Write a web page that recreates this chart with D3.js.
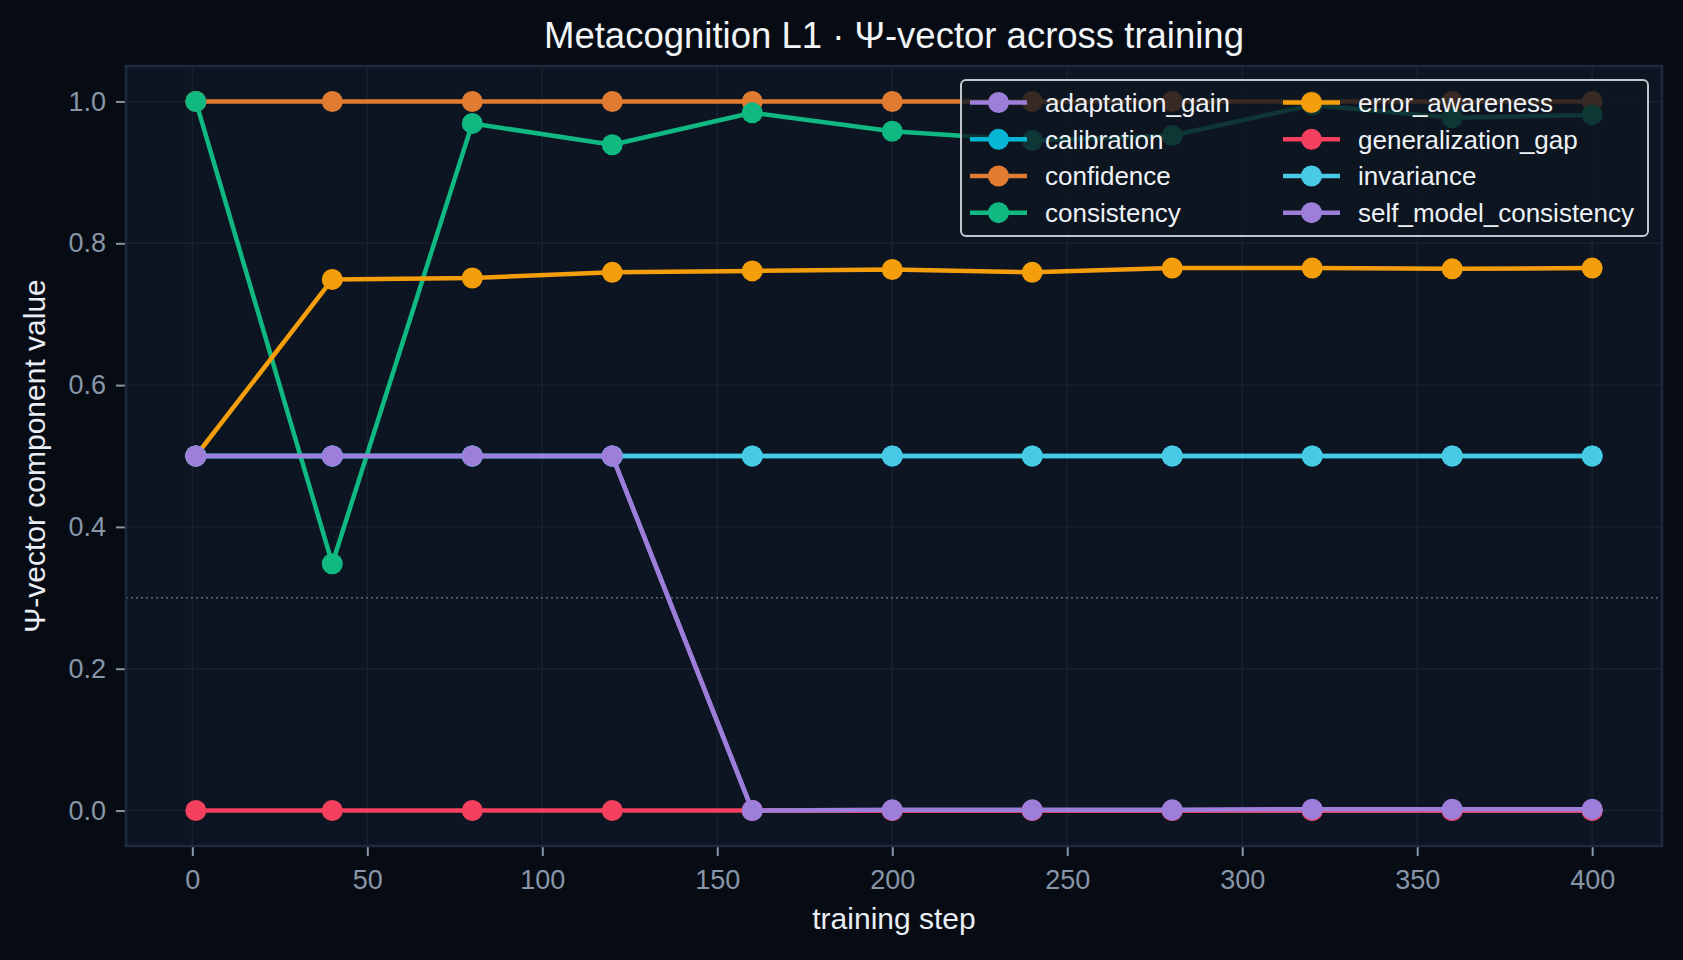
<!DOCTYPE html>
<html>
<head>
<meta charset="utf-8">
<script src="https://cdn.jsdelivr.net/npm/d3@7"></script>
<style>
body { margin: 0; background: #070b13; }
svg { display: block; font-family: "Liberation Sans", Arial, sans-serif; }
</style>
</head>
<body>
<svg id="chart"></svg>
<script>
// training steps on the x axis
let steps = [1, 40, 80, 120, 160, 200, 240, 280, 320, 360, 400]

// one array per Ψ-vector component
let adaptationGain = [0.5, 0.5, 0.5, 0.5, 0, 0, 0, 0, 0, 0, 0]
let calibration = [0.5, 0.5, 0.5, 0.5, 0.5, 0.5, 0.5, 0.5, 0.5, 0.5, 0.5]
let confidence = [1, 1, 1, 1, 1, 1, 1, 1, 1, 1, 1]
let consistency = [1.0, 0.348, 0.969, 0.939, 0.984, 0.958, 0.945, 0.952, 0.995, 0.977, 0.981]
let errorAwareness = [0.5, 0.749, 0.751, 0.759, 0.761, 0.763, 0.759, 0.765, 0.765, 0.764, 0.765]
let generalizationGap = [0, 0, 0, 0, 0, 0, 0, 0, 0, 0, 0]
let invariance = [0.5, 0.5, 0.5, 0.5, 0.5, 0.5, 0.5, 0.5, 0.5, 0.5, 0.5]
let selfModelConsistency = [0.5, 0.5, 0.5, 0.5, 0, 0.001, 0.001, 0.001, 0.002, 0.002, 0.002]

let seriesNames = ["adaptation_gain", "calibration", "confidence", "consistency",
    "error_awareness", "generalization_gap", "invariance", "self_model_consistency"]
let seriesValues = [adaptationGain, calibration, confidence, consistency,
    errorAwareness, generalizationGap, invariance, selfModelConsistency]

let xTicks = [0, 50, 100, 150, 200, 250, 300, 350, 400]
let yTicks = [0, 0.2, 0.4, 0.6, 0.8, 1.0]
let threshold = 0.3

let colors = ["#9d7fdb", "#06b6d4", "#e07b31", "#10b981",
    "#f59e0b", "#f43f5e", "#48cae4", "#9d7fdb"]

// canvas + plot box
let width = 1683
let height = 960
let plot = {left: 126, right: 1662, top: 66, bottom: 846}
let axesBg = "#0c1521"

let svg = d3.select("#chart")
let xScale
let yScale

let drawCanvas = () => {
    svg.attr("width", width).attr("height", height)
    svg.append("rect")
        .attr("width", width).attr("height", height)
        .attr("fill", "#070b13")
    svg.append("rect")
        .attr("x", plot.left).attr("y", plot.top)
        .attr("width", plot.right - plot.left).attr("height", plot.bottom - plot.top)
        .attr("fill", axesBg)
}

let generateScales = () => {
    // matplotlib style 5% margins
    let xPad = (d3.max(steps) - d3.min(steps)) * 0.05
    xScale = d3.scaleLinear()
        .domain([d3.min(steps) - xPad, d3.max(steps) + xPad])
        .range([plot.left, plot.right])
    yScale = d3.scaleLinear()
        .domain([-0.05, 1.05])
        .range([plot.bottom, plot.top])
}

let drawGrid = () => {
    let grid = svg.append("g").attr("stroke", "#17222f").attr("stroke-width", 1.5)
    grid.selectAll(".gx").data(xTicks).enter().append("line")
        .attr("x1", d => xScale(d)).attr("x2", d => xScale(d))
        .attr("y1", plot.top).attr("y2", plot.bottom)
    grid.selectAll(".gy").data(yTicks).enter().append("line")
        .attr("y1", d => yScale(d)).attr("y2", d => yScale(d))
        .attr("x1", plot.left).attr("x2", plot.right)

    svg.append("line")
        .attr("x1", plot.left).attr("x2", plot.right)
        .attr("y1", yScale(threshold)).attr("y2", yScale(threshold))
        .attr("stroke", "#5c6773")
        .attr("stroke-width", 1.6)
        .attr("stroke-dasharray", "2,3")
}

let drawSeries = () => {
    let line = d3.line()
        .x((d, i) => xScale(steps[i]))
        .y(d => yScale(d))

    seriesValues.forEach((vals, k) => {
        let g = svg.append("g")
        g.append("path")
            .attr("d", line(vals))
            .attr("fill", "none")
            .attr("stroke", colors[k])
            .attr("stroke-width", 4.5)
            .attr("stroke-linejoin", "round")
        g.selectAll("circle")
            .data(vals)
            .enter()
            .append("circle")
            .attr("cx", (d, i) => xScale(steps[i]))
            .attr("cy", d => yScale(d))
            .attr("r", 10.5)
            .attr("fill", colors[k])
    })
}

let generateAxis = () => {
    let xAxis = d3.axisBottom(xScale)
        .tickValues(xTicks)
        .tickFormat(d3.format("d"))
        .tickSize(10)
        .tickPadding(14)
    let yAxis = d3.axisLeft(yScale)
        .tickValues(yTicks)
        .tickFormat(d3.format(".1f"))
        .tickSize(10)
        .tickPadding(10)

    let gx = svg.append("g")
        .attr("transform", "translate(0," + plot.bottom + ")")
        .call(xAxis)
    let gy = svg.append("g")
        .attr("transform", "translate(" + plot.left + ",0)")
        .call(yAxis)

    ;[gx, gy].forEach(g => {
        g.select(".domain").remove()
        g.selectAll(".tick line").attr("stroke", "#8796a8").attr("stroke-width", 2)
        g.selectAll(".tick text")
            .attr("fill", "#8796a8")
            .style("font-size", "27px")
            .style("font-family", "'Liberation Sans', Arial, sans-serif")
    })

    // frame of the axes
    svg.append("rect")
        .attr("x", plot.left).attr("y", plot.top)
        .attr("width", plot.right - plot.left).attr("height", plot.bottom - plot.top)
        .attr("fill", "none")
        .attr("stroke", "#1e2a3c")
        .attr("stroke-width", 2.5)

    svg.append("text")
        .attr("x", (plot.left + plot.right) / 2)
        .attr("y", 929)
        .attr("text-anchor", "middle")
        .attr("fill", "#e8eef4")
        .style("font-size", "30px")
        .text("training step")

    svg.append("text")
        .attr("transform", `translate(45, ${(plot.top + plot.bottom) / 2}) rotate(-90)`)
        .attr("text-anchor", "middle")
        .attr("fill", "#e8eef4")
        .style("font-size", "30px")
        .text("Ψ-vector component value")

    svg.append("text")
        .attr("x", (plot.left + plot.right) / 2)
        .attr("y", 48)
        .attr("text-anchor", "middle")
        .attr("fill", "#f2f5f8")
        .style("font-size", "36.5px")
        .text("Metacognition L1 · Ψ-vector across training")
}

let drawLegend = () => {
    let box = {x: 961, y: 80, w: 687, h: 156}
    let lg = svg.append("g")
    lg.append("rect")
        .attr("x", box.x).attr("y", box.y)
        .attr("width", box.w).attr("height", box.h)
        .attr("rx", 5)
        .attr("fill", axesBg)
        .attr("fill-opacity", 0.8)
        .attr("stroke", "#c3c6ca")
        .attr("stroke-width", 2)

    let colX = [970, 1283]
    let rowY = [102.5, 139.3, 176, 212.7]
    seriesNames.forEach((name, k) => {
        let cx = colX[Math.floor(k / 4)]
        let cy = rowY[k % 4]
        lg.append("line")
            .attr("x1", cx).attr("x2", cx + 57)
            .attr("y1", cy).attr("y2", cy)
            .attr("stroke", colors[k])
            .attr("stroke-width", 4.5)
        lg.append("circle")
            .attr("cx", cx + 28.5).attr("cy", cy)
            .attr("r", 10.5)
            .attr("fill", colors[k])
        lg.append("text")
            .attr("x", cx + 75).attr("y", cy)
            .attr("dy", "0.36em")
            .attr("fill", "#eef2f6")
            .style("font-size", "26px")
            .text(name)
    })
}

drawCanvas()
generateScales()
drawGrid()
drawSeries()
generateAxis()
drawLegend()
</script>
</body>
</html>
